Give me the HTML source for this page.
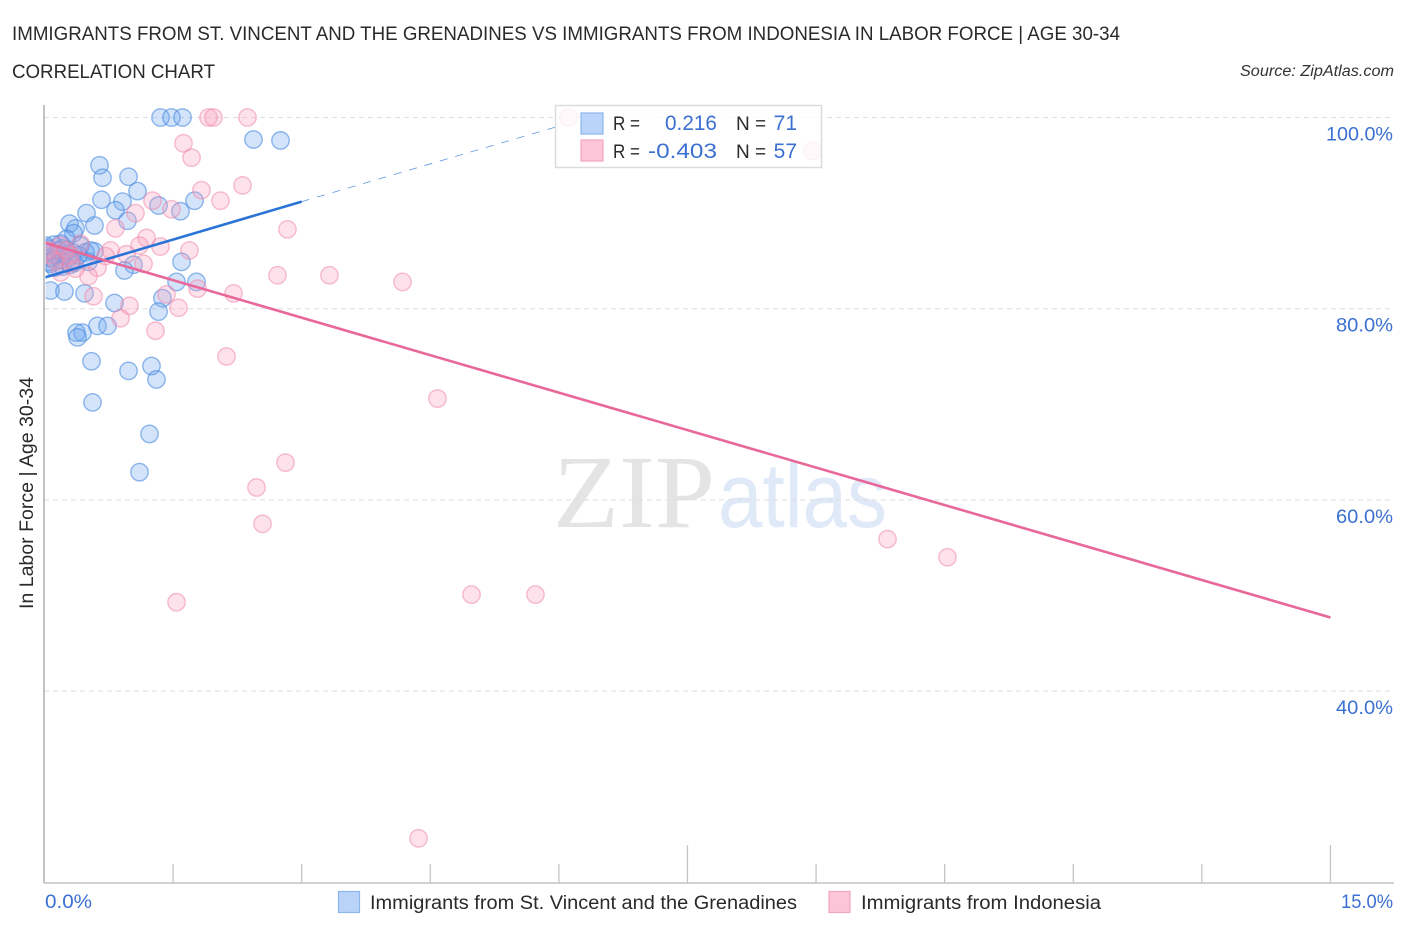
<!DOCTYPE html>
<html lang="en">
<head>
<meta charset="utf-8">
<title>Immigrants from St. Vincent and the Grenadines vs Immigrants from Indonesia in Labor Force | Age 30-34</title>
<style>
html,body{margin:0;padding:0;background:#fff;width:1406px;height:930px;overflow:hidden}
svg{display:block;font-family:"Liberation Sans",sans-serif}
</style>
</head>
<body>
<svg id="chart" width="1406" height="930" viewBox="0 0 1406 930" xmlns="http://www.w3.org/2000/svg">
  <defs>
    <clipPath id="plotClip"><rect x="45.5" y="100" width="1360" height="790"/></clipPath>
  </defs>
  <rect x="0" y="0" width="1406" height="930" fill="#fff"/>
  <text x="12" y="40" font-size="19.5" fill="#2a2a2a" textLength="1108" lengthAdjust="spacingAndGlyphs">IMMIGRANTS FROM ST. VINCENT AND THE GRENADINES VS IMMIGRANTS FROM INDONESIA IN LABOR FORCE | AGE 30-34</text>
  <text x="12" y="78" font-size="19.5" fill="#2a2a2a" textLength="203" lengthAdjust="spacingAndGlyphs">CORRELATION CHART</text>
  <text x="1394" y="76" font-size="15.5" font-style="italic" fill="#333" text-anchor="end" textLength="154" lengthAdjust="spacingAndGlyphs">Source: ZipAtlas.com</text>

  <g>
    <text x="553" y="527" font-family="'Liberation Serif',serif" font-size="104" fill="#e4e4e4" textLength="162" lengthAdjust="spacingAndGlyphs">ZIP</text>
    <text x="718" y="527" font-family="'Liberation Sans',sans-serif" font-size="92" fill="#dfe9f8" textLength="169" lengthAdjust="spacingAndGlyphs">atlas</text>
  </g>

  <g id="grid"></g>
  <g id="yLabels"></g>
  <g clip-path="url(#plotClip)">
    <g id="pointsBlue"></g>
    <g id="pointsPink"></g>
    <g id="trendLines"></g>
  </g>
  <g id="axes"></g>

  <text transform="translate(33,493) rotate(-90)" font-size="19" fill="#2a2a2a" text-anchor="middle" textLength="232" lengthAdjust="spacingAndGlyphs">In Labor Force | Age 30-34</text>

  <text id="xMin" x="45" y="908" font-size="19" fill="#3b70d2" textLength="47" lengthAdjust="spacingAndGlyphs"></text>
  <text id="xMax" x="1341" y="908" font-size="19" fill="#3b70d2" textLength="52" lengthAdjust="spacingAndGlyphs"></text>

  <g>
    <rect x="555.5" y="105.5" width="266" height="62" fill="#fff" fill-opacity="0.8" stroke="#dcdcdc" stroke-width="1.5"/>
    <rect x="581" y="113" width="22" height="21" fill="#b9d4f8" stroke="#8db6ee" stroke-width="1.2"/>
    <rect x="581" y="140" width="22" height="21" fill="#fcc6d8" stroke="#f3a5bf" stroke-width="1.2"/>
    <text x="613" y="130" font-size="19" fill="#2a2a2a" textLength="27" lengthAdjust="spacingAndGlyphs">R =</text>
    <text x="665" y="130" font-size="21" fill="#3b70d2" textLength="52" lengthAdjust="spacingAndGlyphs">0.216</text>
    <text x="736" y="130" font-size="19" fill="#2a2a2a">N =</text>
    <text x="797" y="130" font-size="21" fill="#3b70d2" text-anchor="end">71</text>
    <text x="613" y="158" font-size="19" fill="#2a2a2a" textLength="27" lengthAdjust="spacingAndGlyphs">R =</text>
    <text x="648" y="158" font-size="21" fill="#3b70d2" textLength="69" lengthAdjust="spacingAndGlyphs">-0.403</text>
    <text x="736" y="158" font-size="19" fill="#2a2a2a">N =</text>
    <text x="797" y="158" font-size="21" fill="#3b70d2" text-anchor="end">57</text>
  </g>

  <g>
    <g>
      <rect x="338.5" y="891.5" width="21" height="21" fill="#b9d4f8" stroke="#8db6ee" stroke-width="1.2"/>
      <text x="370" y="909" font-size="19" fill="#2a2a2a" textLength="427" lengthAdjust="spacingAndGlyphs">Immigrants from St. Vincent and the Grenadines</text>
    </g>
    <g>
      <rect x="829" y="891.5" width="21" height="21" fill="#fcc6d8" stroke="#f3a5bf" stroke-width="1.2"/>
      <text x="861" y="909" font-size="19" fill="#2a2a2a" textLength="240" lengthAdjust="spacingAndGlyphs">Immigrants from Indonesia</text>
    </g>
  </g>
</svg>
<script>
// Data values: x = percent of immigrants, y = in labor force percent
const blueX = [1.353,1.481,1.610,2.438,2.753,0.642,0.677,0.980,1.085,0.665,0.910,0.828,1.330,1.586,1.750,0.968,0.292,0.490,0.583,0.362,0.338,0.257,0.187,0.105,0.035,0.210,0.420,0.583,0.478,0.537,1.038,0.933,1.598,1.540,1.773,0.513,0.350,0.210,0.070,0.070,0.233,0.467,0.817,1.376,1.330,0.618,0.735,0.443,0.373,0.385,0.548,0.980,1.248,1.306,0.560,1.225,1.108,0.035,0.070,0.128,0.163,0.222,0.280,0.327,0.047,0.117,0.187,0.303,0.397,0.012,0.257];
const blueY = [100,100,100,97.7,97.6,95.0,93.7,93.8,92.3,91.4,91.2,90.3,90.8,90.2,91.3,89.2,88.9,90.0,88.7,88.4,87.9,87.3,86.8,86.7,86.3,86.3,86.6,86.0,85.9,86.1,84.6,84.0,84.9,82.8,82.8,84.9,84.8,84.4,84.7,81.9,81.8,81.6,80.6,81.1,79.7,78.2,78.2,77.5,77.5,77.0,74.5,73.5,74.0,72.6,70.2,66.9,62.9,85.9,85.3,85.6,86.1,85.7,85.3,85.9,84.9,84.3,85.1,84.6,85.6,86.6,86.1];
const pinkX = [6.112,1.913,1.971,2.368,8.958,1.621,1.715,1.831,2.310,2.053,1.260,1.481,1.061,0.828,2.834,1.190,1.353,1.108,1.691,0.770,0.956,1.155,0.712,0.618,0.513,2.718,3.324,4.176,2.205,1.785,1.423,1.563,0.572,0.991,0.887,1.295,2.123,4.584,2.811,2.473,2.543,1.540,4.981,5.727,9.833,10.533,4.363,0.420,0.303,0.187,0.362,0.070,0.128,0.245,0.187,0.047,0.303];
const pinkY = [100,100,100,100,96.5,97.3,95.8,92.4,92.9,91.3,91.3,90.4,90.0,88.4,88.3,87.4,86.5,86.6,86.1,86.1,85.7,84.7,85.5,84.3,83.4,83.5,83.5,82.8,81.6,82.1,81.5,80.1,81.3,80.3,79.0,77.7,75.0,70.6,63.9,61.3,57.5,49.3,50.1,50.1,55.9,54.0,24.6,86.8,84.8,83.8,84.2,85.6,85.0,86.1,86.6,86.1,85.6];
const blueTrendX = [0, 3.0, 6.0];
const blueTrendY = [83.26, 91.2, 99.1];
const pinkTrendX = [0, 15];
const pinkTrendY = [86.9, 47.7];
const yTickValues = [100, 80, 60, 40];
const yTickLabels = ["100.0%", "80.0%", "60.0%", "40.0%"];
const xTickValues = [0, 1.5, 3, 4.5, 6, 7.5, 9, 10.5, 12, 13.5, 15];
const xMajorTicks = [7.5, 15];
const xEndLabels = ["0.0%", "15.0%"];

const NS = "http://www.w3.org/2000/svg";
function sx(v){ return 44.5 + v * 85.73; }
function sy(v){ return 117.5 + (100 - v) * 9.56; }
function mk(tag, parent, attrs){
  const el = document.createElementNS(NS, tag);
  for (const k in attrs) el.setAttribute(k, attrs[k]);
  parent.appendChild(el);
  return el;
}

const grid = document.getElementById("grid");
const yLabels = document.getElementById("yLabels");
yTickValues.forEach(function(v, i){
  const line = mk("line", grid, {x1:44, x2:1393, y1:sy(v), y2:sy(v), stroke:"#dedede", "stroke-width":1, "stroke-dasharray":"5 4"});
  
  
  const t = mk("text", yLabels, {x:1393, y:sy(v)+23, "font-size":19.5, fill:"#3b70d2", "text-anchor":"end", textLength: i === 0 ? 67 : 57, lengthAdjust:"spacingAndGlyphs"});
  t.textContent = yTickLabels[i];
  
  
});

const blueGroup = document.getElementById("pointsBlue");
blueX.forEach(function(x, i){
  const c = mk("circle", blueGroup, {cx:sx(x), cy:sy(blueY[i]), r:8.7, fill:"#6ea6ee", "fill-opacity":0.3, stroke:"#4a8ae0", "stroke-opacity":0.6, "stroke-width":1.4});
  
  
});
const pinkGroup = document.getElementById("pointsPink");
pinkX.forEach(function(x, i){
  const c = mk("circle", pinkGroup, {cx:sx(x), cy:sy(pinkY[i]), r:8.7, fill:"#f7a0bc", "fill-opacity":0.3, stroke:"#ee7fa5", "stroke-opacity":0.5, "stroke-width":1.4});
  
  
});

const trend = document.getElementById("trendLines");
const dashEl = mk("line", trend, {x1:sx(blueTrendX[1]), y1:sy(blueTrendY[1]), x2:sx(blueTrendX[2]), y2:sy(blueTrendY[2]), stroke:"#2a74d8", "stroke-width":0.8, "stroke-opacity":0.75, "stroke-dasharray":"8 8"});


const solidEl = mk("line", trend, {x1:sx(blueTrendX[0]), y1:sy(blueTrendY[0]), x2:sx(blueTrendX[1]), y2:sy(blueTrendY[1]), stroke:"#2a74d8", "stroke-width":2.6});


const pinkEl = mk("line", trend, {x1:sx(pinkTrendX[0]), y1:sy(pinkTrendY[0]), x2:sx(pinkTrendX[1]), y2:sy(pinkTrendY[1]), stroke:"#e9689a", "stroke-width":2.6});



const axes = document.getElementById("axes");
const yAxis = mk("line", axes, {x1:44, x2:44, y1:105, y2:883, stroke:"#b4b4b4", "stroke-width":1.6});


const xAxis = mk("line", axes, {x1:44, x2:1394, y1:883, y2:883, stroke:"#c4c4c4", "stroke-width":1.6});


xTickValues.forEach(function(v){
  if (v === 0) return;
  const top = xMajorTicks.indexOf(v) >= 0 ? 845 : 864;
  const tick = mk("line", axes, {x1:sx(v), x2:sx(v), y1:top, y2:883, stroke:"#c4c4c4", "stroke-width":1.3});
  
  
});
document.getElementById("xMin").textContent = xEndLabels[0];
document.getElementById("xMax").textContent = xEndLabels[1];
</script>
</body>
</html>
